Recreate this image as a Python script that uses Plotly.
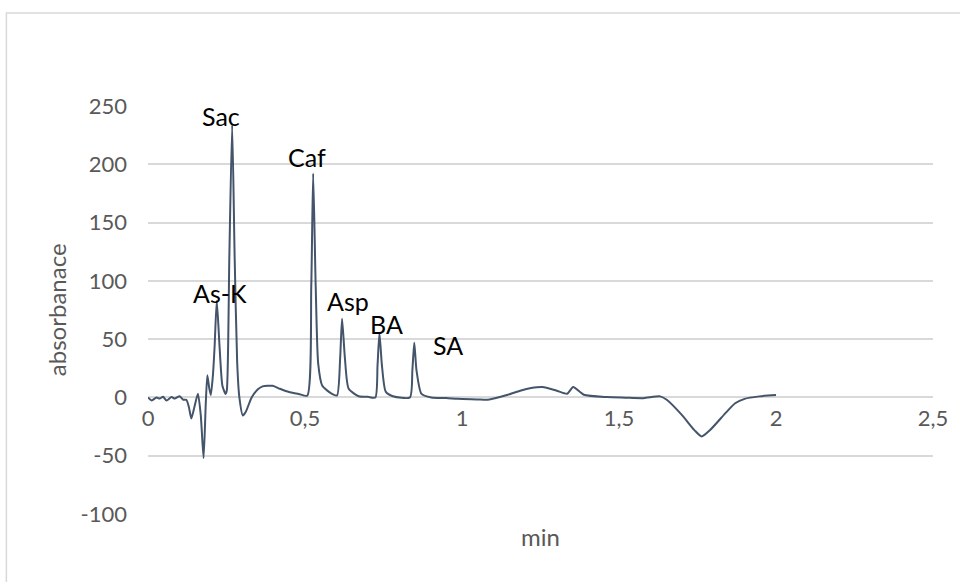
import plotly.graph_objects as go

# retention time (min) and absorbance
time_min = [0.000, 0.012, 0.027, 0.037, 0.048, 0.059, 0.075, 0.085, 0.101, 0.112, 0.122,
            0.130, 0.138, 0.148, 0.159, 0.168, 0.177, 0.184, 0.189, 0.195, 0.200,
            0.207, 0.212, 0.219, 0.228, 0.237, 0.247,
            0.251, 0.259, 0.268, 0.276, 0.284, 0.291, 0.302, 0.312, 0.330, 0.350, 0.365, 0.397,
            0.420, 0.449, 0.480, 0.507, 0.520, 0.526, 0.534, 0.542, 0.555, 0.586,
            0.602, 0.612, 0.618, 0.627, 0.639, 0.671,
            0.700, 0.724, 0.731, 0.737, 0.745, 0.757, 0.780,
            0.834, 0.842, 0.848, 0.855, 0.871, 0.902,
            0.950, 0.987, 1.050, 1.082, 1.146, 1.188, 1.220, 1.256, 1.300, 1.335, 1.354, 1.388,
            1.462, 1.520, 1.578, 1.631, 1.652, 1.700, 1.740, 1.763, 1.790, 1.842, 1.870, 1.900,
            1.947, 2.000]
absorbance = [0.0, -2.6, 0.0, -1.0, 0.5, -2.6, 0.3, -1.0, 1.0, -2.0, -2.0,
              -8.0, -18.0, -8.0, 3.2, -15.0, -52.0, -5.0, 19.0, 8.0, 2.0,
              20.0, 43.0, 83.0, 43.0, 10.0, 3.0,
              6.0, 120.0, 233.7, 120.0, 30.0, 0.0, -15.5, -12.0, 0.0, 7.0, 9.5, 10.0,
              7.4, 4.6, 3.0, 1.5, 96.0, 192.0, 96.0, 29.0, 10.0, 3.0,
              1.7, 34.0, 67.6, 34.0, 7.5, 1.0,
              0.5, 0.0, 27.5, 55.0, 27.5, 5.0, 1.0,
              0.0, 23.5, 47.0, 23.5, 3.0, 0.0,
              -0.5, -1.2, -1.7, -2.0, 2.3, 6.0, 8.0, 8.9, 6.0, 3.2, 8.9, 2.3,
              0.3, -0.2, -0.6, 0.9, -2.0, -15.0, -28.0, -33.5, -28.0, -12.6, -5.0, -1.2,
              0.9, 2.0]

peak_names = ["As-K", "Sac", "Caf", "Asp", "BA", "SA"]
label_x = [0.228, 0.234, 0.506, 0.636, 0.758, 0.956]
label_y = [89.3, 241.4, 206.2, 82.5, 62.7, 44.7]

x_tickvals = [0, 0.5, 1, 1.5, 2, 2.5]
x_ticktext = ["0", "0,5", "1", "1,5", "2", "2,5"]
y_tickvals = [-100, -50, 0, 50, 100, 150, 200, 250]
y_ticktext = ["-100", "-50", "0", "50", "100", "150", "200", "250"]

line_color = "#44546A"
grid_color = "#D9D9D9"
tick_color = "#595959"
font_family = "Lato, 'Open Sans', sans-serif"

fig = go.Figure()
fig.add_trace(go.Scatter(
    x=time_min, y=absorbance, mode="lines",
    line=dict(color=line_color, width=2, shape="spline", smoothing=0.6),
    showlegend=False, hoverinfo="skip", cliponaxis=False,
))

for name, lx, ly in zip(peak_names, label_x, label_y):
    fig.add_annotation(x=lx, y=ly, text=name, showarrow=False,
                       font=dict(family=font_family, size=25, color="#000000"),
                       xanchor="center", yanchor="middle")

fig.add_annotation(xref="paper", yref="paper", x=0.5, y=-0.056, text="min",
                   showarrow=False, font=dict(family=font_family, size=24, color=tick_color),
                   xanchor="center", yanchor="middle")
fig.add_annotation(xref="paper", yref="paper", x=-0.117, y=0.5, text="absorbanace",
                   textangle=-90, showarrow=False,
                   font=dict(family=font_family, size=24, color=tick_color),
                   xanchor="center", yanchor="middle")

# outer chart border
fig.add_shape(type="rect", xref="paper", yref="paper",
              x0=-0.1804, x1=1.2, y0=-0.5, y1=1.228,
              line=dict(color=grid_color, width=1.5), layer="below")

fig.update_layout(
    width=960, height=582,
    margin=dict(l=148, r=22, t=106, b=68),
    paper_bgcolor="white", plot_bgcolor="white",
    separators=", ",
    font=dict(family=font_family, size=22, color=tick_color),
    xaxis=dict(range=[0, 2.5], tickvals=x_tickvals, ticktext=x_ticktext,
               showgrid=False, zeroline=False, showline=False,
               anchor="free", position=100 / 350, ticks="",
               ticklabelstandoff=6,
               tickfont=dict(family=font_family, size=22, color=tick_color)),
    yaxis=dict(range=[-100, 250], tickvals=y_tickvals, ticktext=y_ticktext,
               showgrid=True, gridcolor=grid_color, gridwidth=1.5,
               zeroline=False, showline=False, ticks="",
               ticklabelstandoff=20,
               tickfont=dict(family=font_family, size=22, color=tick_color)),
)

fig.write_html("out.html", config={"displayModeBar": False},
               post_script="document.body.style.margin='0';document.body.style.overflow='hidden';")
